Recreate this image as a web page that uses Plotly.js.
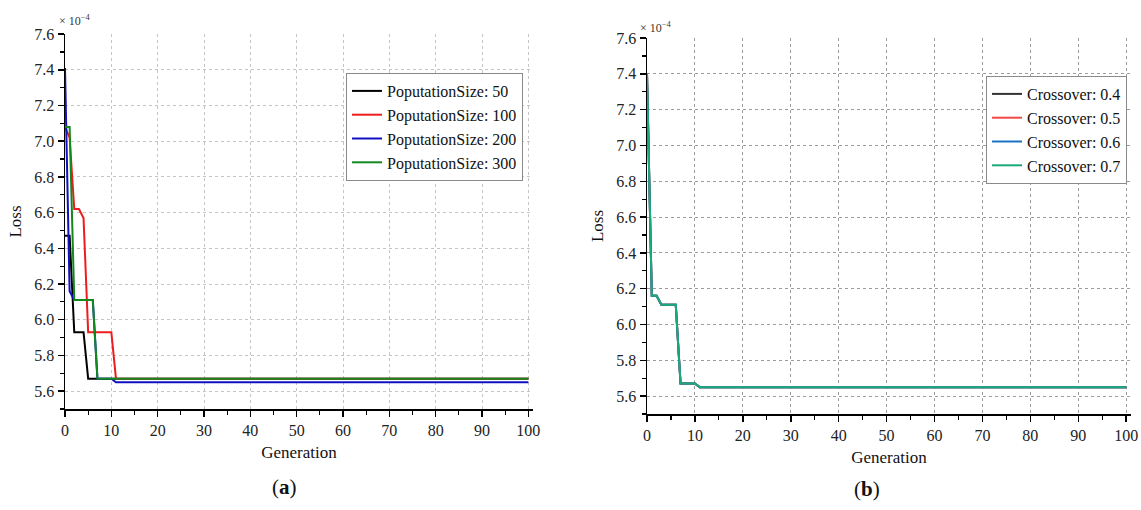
<!DOCTYPE html>
<html>
<head>
<meta charset="utf-8">
<script src="https://cdn.plot.ly/plotly-3.0.1.min.js"></script>
<style>html,body{margin:0;padding:0;background:#fff;}#chart{width:1141px;height:510px;}</style>
</head>
<body>
<div id="chart"></div>
<script>
// Loss values are in units of 1e-4 (as labelled on the axis)
// Panel (a): population size
const genPop50  = [0, 1, 2, 4, 5, 100];
const lossPop50 = [6.47, 6.47, 5.93, 5.93, 5.67, 5.67];
const genPop100  = [0, 1, 2, 3, 4, 5, 10, 11, 100];
const lossPop100 = [7.08, 7.02, 6.62, 6.62, 6.57, 5.93, 5.93, 5.67, 5.67];
const genPop200  = [0, 1, 2, 6, 7, 10, 11, 100];
const lossPop200 = [7.41, 6.16, 6.11, 6.11, 5.67, 5.67, 5.65, 5.65];
const genPop300  = [0, 1, 2, 6, 7, 100];
const lossPop300 = [7.08, 7.08, 6.11, 6.11, 5.67, 5.67];
const popNames = ["PoputationSize: 50", "PoputationSize: 100", "PoputationSize: 200", "PoputationSize: 300"];

// Panel (b): crossover rate (all curves coincide)
const genCross04  = [0, 1, 2, 3, 6, 7, 10, 11, 100];
const lossCross04 = [7.40, 6.16, 6.16, 6.11, 6.11, 5.67, 5.67, 5.65, 5.65];
const genCross05  = [0, 1, 2, 3, 6, 7, 10, 11, 100];
const lossCross05 = [7.40, 6.16, 6.16, 6.11, 6.11, 5.67, 5.67, 5.65, 5.65];
const genCross06  = [0, 1, 2, 3, 6, 7, 10, 11, 100];
const lossCross06 = [7.40, 6.16, 6.16, 6.11, 6.11, 5.67, 5.67, 5.65, 5.65];
const genCross07  = [0, 1, 2, 3, 6, 7, 10, 11, 100];
const lossCross07 = [7.40, 6.16, 6.16, 6.11, 6.11, 5.67, 5.67, 5.65, 5.65];
const crossNames = ["Crossover: 0.4", "Crossover: 0.5", "Crossover: 0.6", "Crossover: 0.7"];

const colorsA = ["#000000", "#ee1c1c", "#1010c0", "#12881f"];
const colorsB = ["#333333", "#ef4a45", "#1a72c6", "#1aa97a"];

const seriesA = [[genPop50, lossPop50], [genPop100, lossPop100], [genPop200, lossPop200], [genPop300, lossPop300]];
const seriesB = [[genCross04, lossCross04], [genCross05, lossCross05], [genCross06, lossCross06], [genCross07, lossCross07]];

const traces = [];
seriesA.forEach((s, i) => traces.push({
  x: s[0], y: s[1], type: "scatter", mode: "lines", name: popNames[i],
  line: {color: colorsA[i], width: 2}, xaxis: "x", yaxis: "y", legend: "legend"
}));
seriesB.forEach((s, i) => traces.push({
  x: s[0], y: s[1], type: "scatter", mode: "lines", name: crossNames[i],
  line: {color: colorsB[i], width: 2}, xaxis: "x2", yaxis: "y2", legend: "legend2"
}));

const W = 1141, H = 510;
const FONT = "Liberation Serif";

function xAxis(domain, gridColor, anchor) {
  return {
    domain: domain, anchor: anchor, range: [0, 101], dtick: 10, tick0: 0,
    showline: true, linecolor: "#000", linewidth: 1.5,
    ticks: "outside", ticklen: 6, tickwidth: 1.5, tickcolor: "#000",
    minor: {dtick: 5, ticks: "outside", ticklen: 4, tickwidth: 1.2, tickcolor: "#000", showgrid: false},
    showgrid: true, gridcolor: gridColor, gridwidth: 1, griddash: "3px,3px",
    zeroline: false, tickfont: {family: FONT, size: 16, color: "#222"},
    title: {text: "Generation", font: {family: FONT, size: 17, color: "#111"}, standoff: 8},
    automargin: false
  };
}
function yAxis(domain, gridColor, anchor) {
  return {
    domain: domain, anchor: anchor, range: [5.5, 7.6005], dtick: 0.2, tick0: 5.6,
    tickformat: ".1f",
    showline: true, linecolor: "#000", linewidth: 1.5,
    ticks: "outside", ticklen: 6, tickwidth: 1.5, tickcolor: "#000",
    minor: {dtick: 0.1, ticks: "outside", ticklen: 4, tickwidth: 1.2, tickcolor: "#000", showgrid: false},
    showgrid: true, gridcolor: gridColor, gridwidth: 1, griddash: "3px,3px",
    zeroline: false, tickfont: {family: FONT, size: 16, color: "#222"},
    title: {text: "Loss", font: {family: FONT, size: 17, color: "#111"}, standoff: 8},
    automargin: false
  };
}

const layout = {
  width: W, height: H,
  margin: {l: 0, r: 0, t: 0, b: 0},
  paper_bgcolor: "#fff", plot_bgcolor: "#fff",
  font: {family: FONT},
  xaxis: xAxis([65 / W, 533 / W], "#c4c4c4", "y"),
  yaxis: yAxis([1 - 409 / H, 1 - 34 / H], "#c4c4c4", "x"),
  xaxis2: xAxis([647 / W, 1131 / W], "#9c9c9c", "y2"),
  yaxis2: yAxis([1 - 414 / H, 1 - 38 / H], "#9c9c9c", "x2"),
  legend: {
    x: 523 / W, y: 1 - 73 / H, xanchor: "right", yanchor: "top",
    bgcolor: "#fff", bordercolor: "#8a8a8a", borderwidth: 1,
    font: {family: FONT, size: 16, color: "#111"}, tracegroupgap: 0
  },
  legend2: {
    x: 1127 / W, y: 1 - 76 / H, xanchor: "right", yanchor: "top",
    bgcolor: "#fff", bordercolor: "#8a8a8a", borderwidth: 1,
    font: {family: FONT, size: 16, color: "#111"}, tracegroupgap: 0
  },
  annotations: [
    {xref: "paper", yref: "paper", x: 57 / W, y: 1 - 21 / H, xanchor: "left", yanchor: "middle",
     text: "× 10<sup>−4</sup>", showarrow: false, font: {family: FONT, size: 12, color: "#333"}},
    {xref: "paper", yref: "paper", x: 638 / W, y: 1 - 27 / H, xanchor: "left", yanchor: "middle",
     text: "× 10<sup>−4</sup>", showarrow: false, font: {family: FONT, size: 12, color: "#333"}},
    {xref: "paper", yref: "paper", x: 284 / W, y: 1 - 487 / H, xanchor: "center", yanchor: "middle",
     text: "(<b>a</b>)", showarrow: false, font: {family: FONT, size: 21, color: "#111"}},
    {xref: "paper", yref: "paper", x: 867 / W, y: 1 - 489 / H, xanchor: "center", yanchor: "middle",
     text: "(<b>b</b>)", showarrow: false, font: {family: FONT, size: 21, color: "#111"}}
  ],
  showlegend: true
};

Plotly.newPlot("chart", traces, layout, {displayModeBar: false, staticPlot: true});
</script>
</body>
</html>
